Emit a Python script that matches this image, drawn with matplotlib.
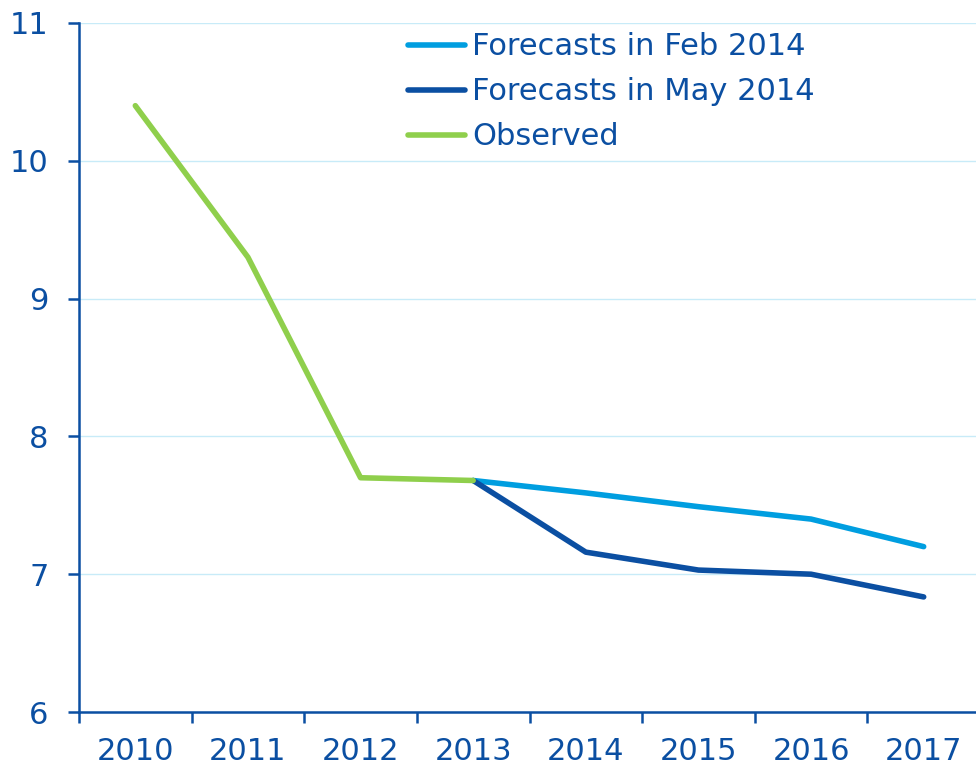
import matplotlib
matplotlib.use("Agg")
import matplotlib.pyplot as plt
import numpy as np

years = ["2010", "2011", "2012", "2013", "2014", "2015", "2016", "2017"]
observed = [10.4, 9.3, 7.7, 7.68]
feb_2014 = [7.68, 7.59, 7.49, 7.4, 7.2]
may_2014 = [7.68, 7.16, 7.03, 7.0, 6.835]

DARK = "#0b4fa2"
LIGHT = "#009ee0"
GREEN = "#8fcf4c"
GRID = "#c8ebf8"

plt.rcParams['font.family'] = ['DejaVu Sans']
FS = 22

fig = plt.figure(figsize=(9.76, 7.65), dpi=100)
ax = fig.add_axes([79/976, 1-712/765, (980-79)/976, (712-23)/765])

x = np.arange(len(years))
kw = dict(lw=4.0, solid_capstyle='round', solid_joinstyle='round')
ax.plot(x[3:], feb_2014, color=LIGHT, label="Forecasts in Feb 2014", zorder=3, **kw)
ax.plot(x[3:], may_2014, color=DARK, label="Forecasts in May 2014", zorder=4, **kw)
ax.plot(x[:4], observed, color=GREEN, label="Observed", zorder=5, **kw)

ax.set_xlim(-0.5, len(years) - 0.5)
ax.set_ylim(6, 11)
ax.set_yticks([6, 7, 8, 9, 10, 11])
ax.set_xticks(x)
ax.set_xticklabels(years)
ax.set_xticks(np.arange(-0.5, len(years), 1.0), minor=True)
ax.tick_params(axis='x', which='major', length=0, pad=18, labelsize=FS, labelcolor=DARK)
ax.tick_params(axis='x', which='minor', length=8, width=1.8, color=DARK, direction='out')
ax.tick_params(axis='y', length=8, width=1.8, color=DARK, pad=14, labelsize=FS, labelcolor=DARK)

for s in ['top', 'right']:
    ax.spines[s].set_visible(False)
for s in ['left', 'bottom']:
    ax.spines[s].set_color(DARK)
    ax.spines[s].set_linewidth(1.8)

ax.yaxis.grid(True, color=GRID, lw=1.0)
ax.set_axisbelow(True)

leg = ax.legend(loc='upper left', bbox_to_anchor=(0.352, 1.004), frameon=False,
                fontsize=FS, handlelength=1.86, handletextpad=0.23,
                labelspacing=0.52, borderaxespad=0.0)
for t in leg.get_texts():
    t.set_color(DARK)

fig.savefig("out.png", dpi=100)
